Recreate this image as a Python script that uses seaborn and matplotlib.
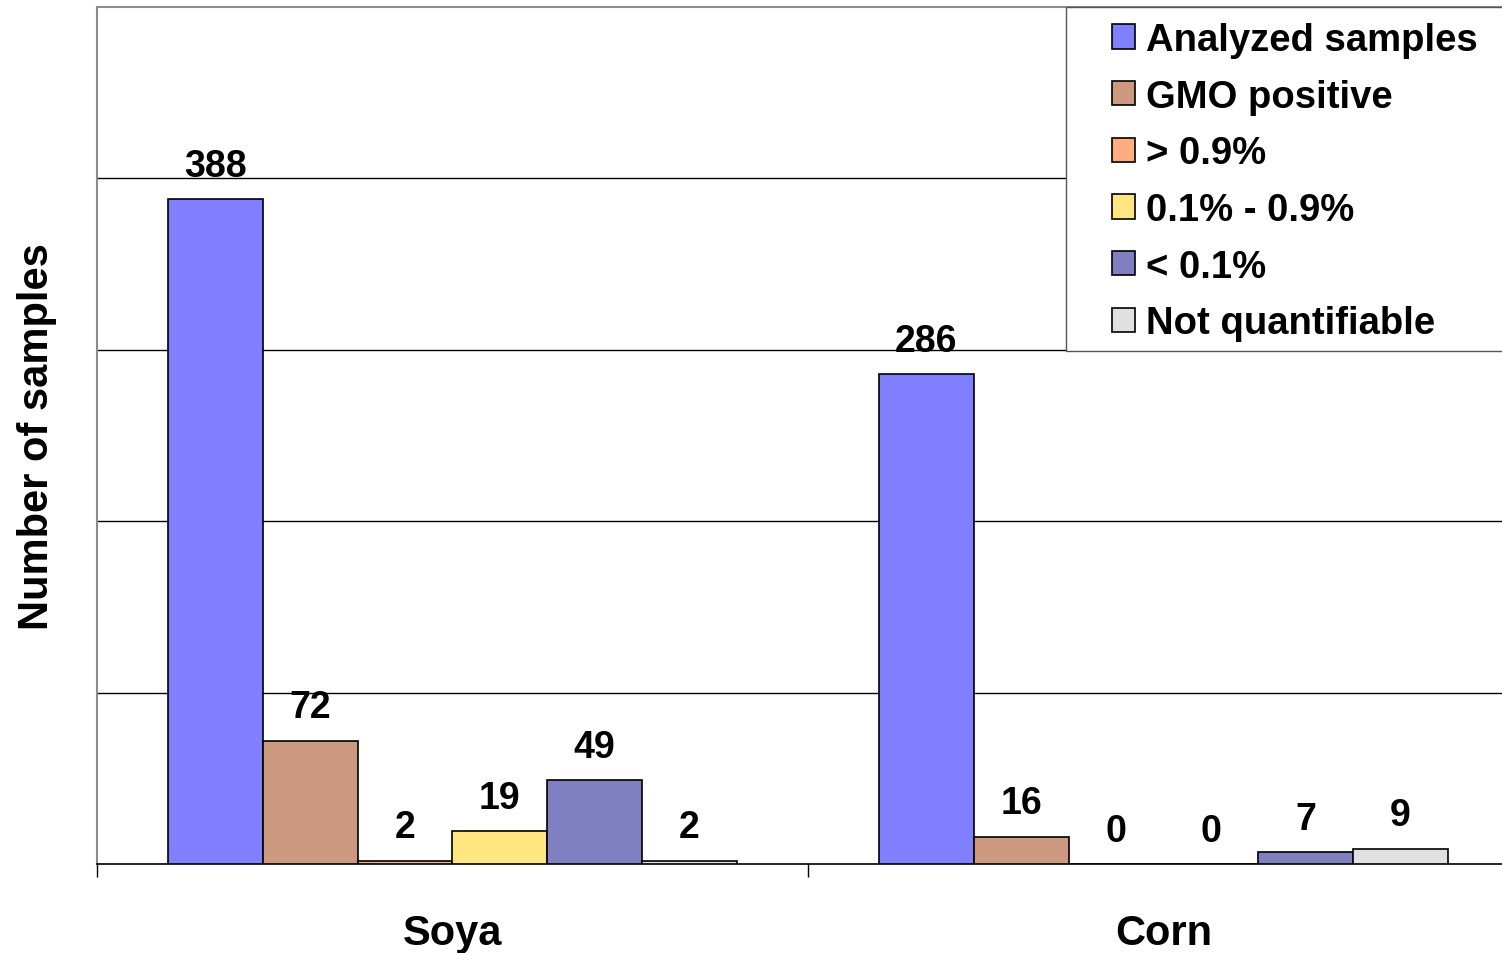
import matplotlib
matplotlib.use("Agg")
import matplotlib.pyplot as plt
from matplotlib.patches import Rectangle
import seaborn as sns
import pandas as pd

# Survey counts per crop
crops = ["Soya", "Corn"]
series = ["Analyzed samples", "GMO positive", "> 0.9%", "0.1% - 0.9%",
          "< 0.1%", "Not quantifiable"]
soya_counts = [388, 72, 2, 19, 49, 2]
corn_counts = [286, 16, 0, 0, 7, 9]
series_colors = ["#8080FF", "#CC9980", "#FFAD80", "#FFE680", "#8080C0", "#E0E0E0"]
y_max = 500
grid_values = [100, 200, 300, 400]

rows = []
for crop, counts in zip(crops, [soya_counts, corn_counts]):
    for s, v in zip(series, counts):
        rows.append({"crop": crop, "series": s, "count": v})
df = pd.DataFrame(rows)

sns.set_theme(style="white")
plt.rcParams["font.family"] = ["Liberation Sans", "DejaVu Sans"]
plt.rcParams["font.weight"] = "bold"
plt.rcParams["text.color"] = "black"
plt.rcParams["axes.labelcolor"] = "black"
plt.rcParams["xtick.color"] = "black"
plt.rcParams["ytick.color"] = "black"

W, H = 1502, 954
fig = plt.figure(figsize=(W / 100, H / 100), dpi=100)
ax = fig.add_axes([97 / W, 89 / H, 1422 / W, 857 / H])

sns.barplot(data=df, x="crop", y="count", hue="series", order=crops,
            hue_order=series, palette=series_colors, saturation=1,
            width=0.8, gap=0, edgecolor="black", linewidth=1.2,
            errorbar=None, ax=ax, legend=True, zorder=3)

for cont in ax.containers:
    ax.bar_label(cont, padding=11, fontsize=27, fontweight="bold",
                 color="black")

ax.set_xlim(-0.5, len(crops) - 0.5)
ax.set_ylim(0, y_max)
ax.set_yticks(grid_values)
ax.set_yticklabels([])
ax.tick_params(axis="y", length=0)
ax.yaxis.grid(True, color="black", linewidth=1.0)
ax.set_axisbelow(True)

# Category labels centred, tick marks at category boundaries
ax.set_xticks(range(len(crops)))
ax.set_xticklabels(crops, fontsize=30, fontweight="bold", color="black")
ax.tick_params(axis="x", which="major", length=0, pad=35)
ax.set_xticks([i - 0.5 for i in range(len(crops) + 1)], minor=True)
ax.tick_params(axis="x", which="minor", length=9.5, width=1.0,
               color="black", direction="out", bottom=True)

ax.set_xlabel("")
ax.set_ylabel("Number of samples", fontsize=30, fontweight="bold",
              labelpad=25, color="black")

for side in ["left", "top"]:
    ax.spines[side].set_color("#8C8C8C")
    ax.spines[side].set_linewidth(1.5)
ax.spines["right"].set_visible(False)
ax.spines["bottom"].set_color("black")
ax.spines["bottom"].set_linewidth(1.2)

# Legend box running off the right edge
fig.patches.append(Rectangle((1066 / W, 1 - 352 / H), 500 / W, 344 / H,
                             transform=fig.transFigure, facecolor="white",
                             edgecolor="#555555", linewidth=1.0, zorder=5))

handles, labels = ax.get_legend_handles_labels()
ax.legend_.remove()
leg = fig.legend(handles, labels, loc="upper left",
                 bbox_to_anchor=(1112 / W, 1 - 23 / H),
                 bbox_transform=fig.transFigure,
                 prop={"size": 27.5, "weight": "bold"},
                 frameon=False, borderaxespad=0, borderpad=0,
                 labelspacing=0.54,
                 handlelength=0.6, handleheight=0.6, handletextpad=0.3)
leg.set_zorder(6)

fig.savefig("out.png", dpi=100)
